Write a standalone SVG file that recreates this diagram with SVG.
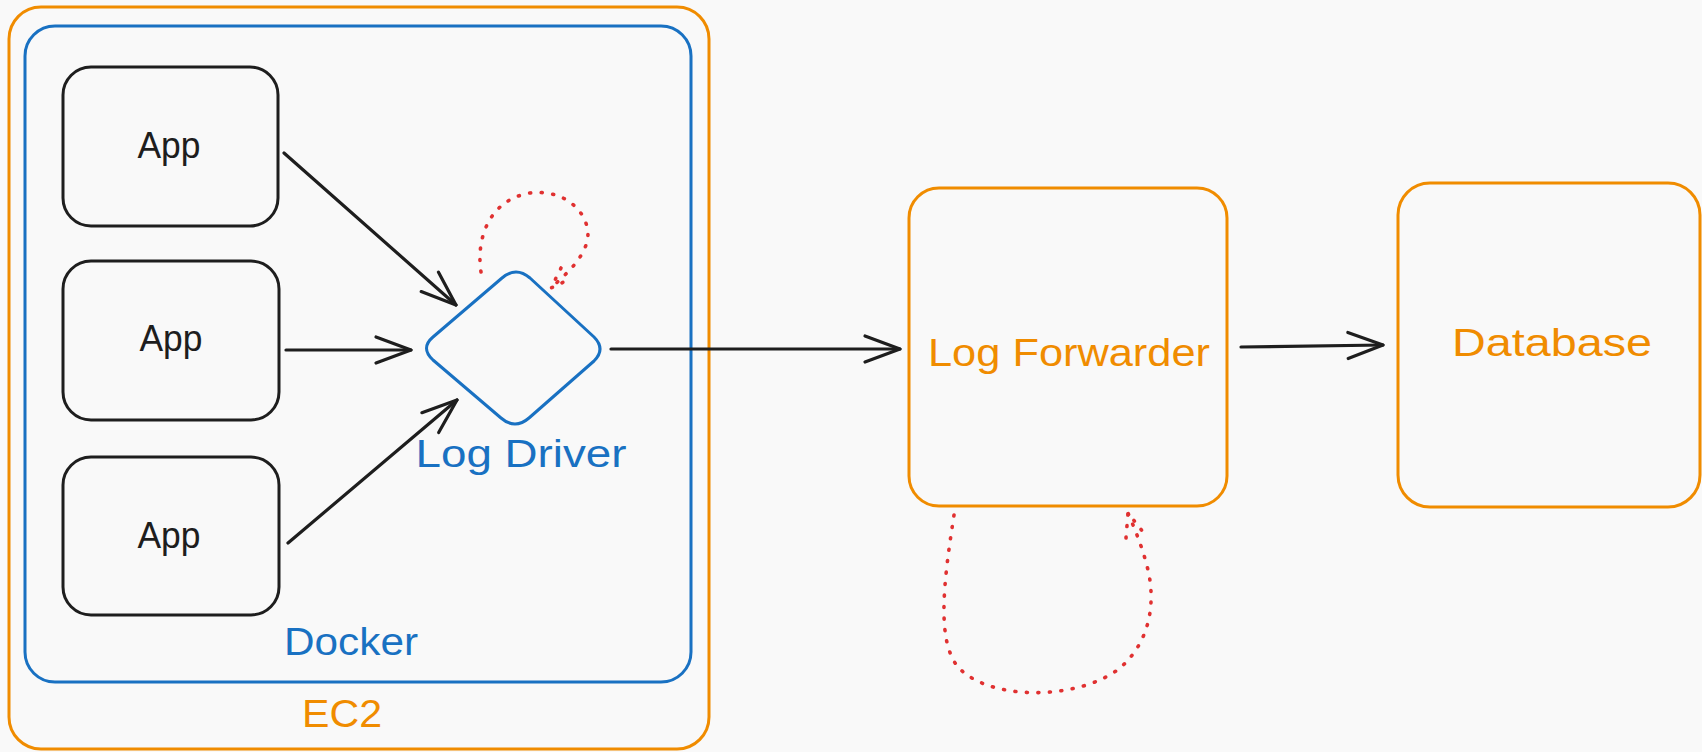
<svg xmlns="http://www.w3.org/2000/svg" width="1702" height="752" viewBox="0 0 1702 752">
<style>
  .lbl{font-family:"Liberation Sans","DejaVu Sans",sans-serif;font-size:38px;text-anchor:middle}
  .app{font-size:36px}
  .box{fill:none;stroke-width:3;stroke-linejoin:round}
  .orange{stroke:#f08c00}
  .blue{stroke:#1971c2}
  .black{stroke:#1e1e1e}
  .conn{fill:none;stroke:#1e1e1e;stroke-width:3.2;stroke-linecap:round}
  .dots{fill:none;stroke:#e03131;stroke-width:3.6;stroke-linecap:round;stroke-dasharray:1 10.5}
</style>
<defs>
  <marker id="ah" markerUnits="userSpaceOnUse" markerWidth="50" markerHeight="40" viewBox="-40 -20 50 40" refX="0" refY="0" orient="auto">
    <path d="M-35,-13 L0,0 L-35,13" fill="none" stroke="#1e1e1e" stroke-width="3.2" stroke-linecap="round" stroke-linejoin="round"/>
  </marker>
</defs>
<rect width="1702" height="752" fill="#f9f9f9"/>

<g id="ec2">
  <rect class="box orange" x="9" y="7" width="700" height="742" rx="32"/>
  <text class="lbl" x="342" y="727" fill="#f08c00" textLength="80" lengthAdjust="spacingAndGlyphs">EC2</text>
</g>
<g id="docker">
  <rect class="box blue" x="25" y="26" width="666" height="656" rx="30"/>
  <text class="lbl" x="351" y="655" fill="#1971c2" textLength="134" lengthAdjust="spacingAndGlyphs">Docker</text>
</g>
<g id="app1">
  <rect class="box black" x="63" y="67" width="215" height="159" rx="28"/>
  <text class="lbl app" x="169" y="158" fill="#1e1e1e" textLength="63" lengthAdjust="spacingAndGlyphs">App</text>
</g>
<g id="app2">
  <rect class="box black" x="63" y="261" width="216" height="159" rx="28"/>
  <text class="lbl app" x="171" y="351" fill="#1e1e1e" textLength="63" lengthAdjust="spacingAndGlyphs">App</text>
</g>
<g id="app3">
  <rect class="box black" x="63" y="457" width="216" height="158" rx="28"/>
  <text class="lbl app" x="169" y="548" fill="#1e1e1e" textLength="63" lengthAdjust="spacingAndGlyphs">App</text>
</g>
<g id="logdriver">
  <path class="box blue" d="M433,337 L502,278 Q516,266 530,278 L594,337 Q606,349 594,361 L529,418 Q515,430 501,418 L433,360 Q420,348 433,337 Z"/>
  <text class="lbl" x="521" y="467" fill="#1971c2" textLength="211" lengthAdjust="spacingAndGlyphs">Log Driver</text>
</g>
<g id="logforwarder">
  <rect class="box orange" x="909" y="188" width="318" height="318" rx="30"/>
  <text class="lbl" x="1069" y="366" fill="#f08c00" textLength="282" lengthAdjust="spacingAndGlyphs">Log Forwarder</text>
</g>
<g id="database">
  <rect class="box orange" x="1398" y="183" width="302" height="324" rx="32"/>
  <text class="lbl" x="1552" y="356" fill="#f08c00" textLength="200" lengthAdjust="spacingAndGlyphs">Database</text>
</g>

<g id="connectors">
  <line class="conn" x1="284" y1="153" x2="456" y2="305" marker-end="url(#ah)"/>
  <line class="conn" x1="286" y1="350" x2="411" y2="350" marker-end="url(#ah)"/>
  <line class="conn" x1="288" y1="543" x2="457" y2="400" marker-end="url(#ah)"/>
  <line class="conn" x1="611" y1="349" x2="900" y2="349" marker-end="url(#ah)"/>
  <line class="conn" x1="1241" y1="347" x2="1383" y2="345" marker-end="url(#ah)"/>
  <path class="dots" d="M481,272 C476,240 488,200 530,193 C572,188 595,222 586,245 C580,262 565,275 551,288"/>
  <path class="dots" d="M561,268 L551,288 L572,278"/>
  <path class="dots" d="M954,515 C944,580 936,640 958,667 C990,702 1080,700 1120,668 C1152,640 1155,600 1148,570 C1142,545 1133,525 1128,513"/>
  <path class="dots" d="M1126,538 L1128,513 L1143,532"/>
</g>
</svg>
